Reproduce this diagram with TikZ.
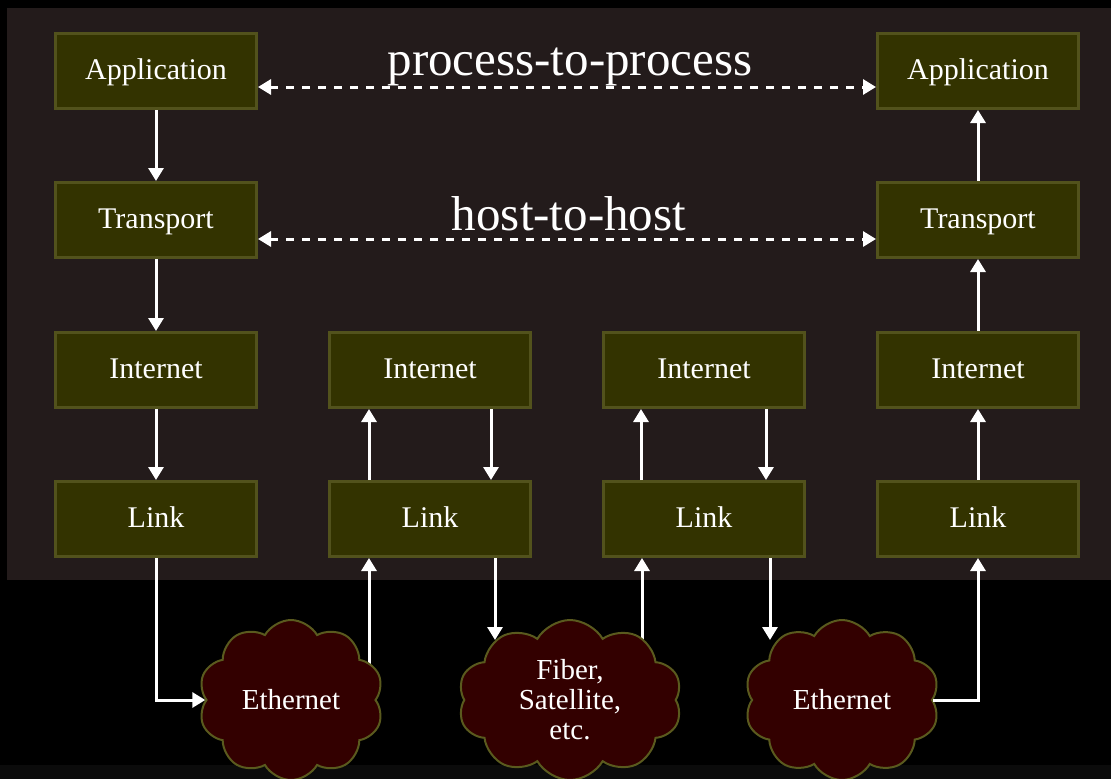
\documentclass[tikz,border=0pt]{standalone}
\usepackage{fontspec}
\setmainfont{Liberation Serif}
\usetikzlibrary{arrows.meta,shapes.symbols}
\definecolor{panel}{HTML}{231B1B}
\definecolor{strip}{HTML}{0B0B0B}
\definecolor{boxfill}{HTML}{333300}
\definecolor{boxline}{HTML}{52521C}
\definecolor{cloudfill}{HTML}{330000}
\definecolor{cloudline}{HTML}{5A5A1E}

\begin{document}
\begin{tikzpicture}[x=1pt,y=-1pt,
  layer/.style={draw=boxline,fill=boxfill,line width=3pt,minimum width=201pt,minimum height=75pt,
    text=white,font=\fontsize{30}{32}\selectfont,text height=23pt,text depth=7pt},
  medium/.style={cloud,cloud puffs=10,cloud puff arc=120,cloud ignores aspect,draw=cloudline,fill=cloudfill,
    line width=2pt,minimum height=160pt,inner sep=0pt},
  mtext/.style={text=white,align=center,font=\fontsize{29}{30}\selectfont},
  arr/.style={draw=white,line width=3pt,-{Triangle[length=13pt,width=15pt]}},
  peer/.style={draw=white,line width=3pt,dash pattern=on 8pt off 8pt,
    {Triangle[length=13pt,width=15pt]}-{Triangle[length=13pt,width=15pt]}},
  ]
\useasboundingbox (0,0) rectangle (1111,779);
\fill[black] (0,0) rectangle (1111,779);
\fill[strip] (0,765) rectangle (1111,779);
\fill[panel] (7,8) rectangle (1111,580);

% sending host
\node[layer] (app1) at (156,71) {Application};
\node[layer] (tra1) at (156,220) {Transport};
\node[layer] (int1) at (156,370) {Internet};
\node[layer] (lnk1) at (156,519) {Link};
% routers
\node[layer] (int2) at (430,370) {Internet};
\node[layer] (lnk2) at (430,519) {Link};
\node[layer] (int3) at (704,370) {Internet};
\node[layer] (lnk3) at (704,519) {Link};
% receiving host
\node[layer] (app4) at (978,71) {Application};
\node[layer] (tra4) at (978,220) {Transport};
\node[layer] (int4) at (978,370) {Internet};
\node[layer] (lnk4) at (978,519) {Link};

% up out of the media (tails hidden under the clouds)
\coordinate (eth1-out) at (369,680);
\coordinate (sat-out) at (642,680);
\draw[arr] (eth1-out) -- (eth1-out |- lnk2.south);
\draw[arr] (sat-out) -- (sat-out |- lnk3.south);

% media
\node[medium,minimum width=185pt,label={[mtext]center:Ethernet}] (eth1) at (291,700) {};
\node[medium,minimum width=224pt,label={[mtext]center:Fiber,\\Satellite,\\etc.}] (sat) at (570,700) {};
\node[medium,minimum width=195pt,label={[mtext]center:Ethernet}] (eth2) at (842,700) {};
\coordinate (sat-in) at (495,640);
\coordinate (eth2-in) at (770,640);

% peer labels
\node[text=white,font=\fontsize{49}{52}\selectfont,anchor=base] (p2p) at (570,75) {process-to-process};
\node[text=white,font=\fontsize{49}{52}\selectfont,anchor=base] (h2h) at (569,230) {host-to-host};
\draw[peer] ([yshift=-16pt]app1.east) -- ([yshift=-16pt]app4.west);
\draw[peer] ([yshift=-19pt]tra1.east) -- ([yshift=-19pt]tra4.west);

% down the stack
\draw[arr] (app1) -- (tra1);
\draw[arr] (tra1) -- (int1);
\draw[arr] (int1) -- (lnk1);
\draw[arr] (lnk1.south) |- (eth1.west);
% first router
\draw[arr] ([xshift=-61pt]lnk2.north) -- ([xshift=-61pt]int2.south);
\draw[arr] ([xshift=61pt]int2.south) -- ([xshift=61pt]lnk2.north);
\draw[arr] (sat-in |- lnk2.south) -- (sat-in);
% second router
\draw[arr] ([xshift=-63pt]lnk3.north) -- ([xshift=-63pt]int3.south);
\draw[arr] ([xshift=62pt]int3.south) -- ([xshift=62pt]lnk3.north);
\draw[arr] (eth2-in |- lnk3.south) -- (eth2-in);
% up the stack
\draw[arr] (eth2.east) -| (lnk4.south);
\draw[arr] (lnk4) -- (int4);
\draw[arr] (int4) -- (tra4);
\draw[arr] (tra4) -- (app4);
\end{tikzpicture}
\end{document}
